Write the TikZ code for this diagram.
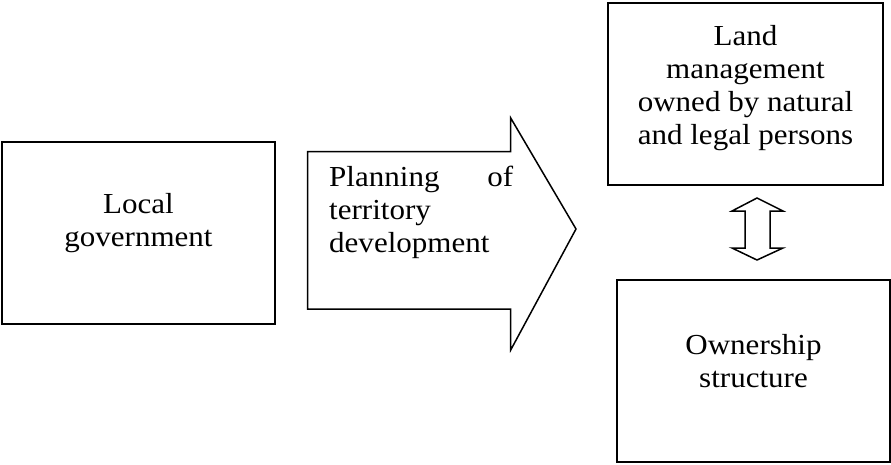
\documentclass[tikz,border=0pt]{standalone}
\usepackage{fontspec}
\setmainfont{Liberation Serif}
\usepackage{graphicx}
\begin{document}
\begin{tikzpicture}[x=1pt,y=-1pt,
  box/.style={draw, line width=1.6pt, inner sep=0pt, minimum width=#1, minimum height=182pt},
  txt/.style={inner sep=0pt, font=\fontsize{29}{33}\selectfont},
  shapeline/.style={draw, line width=1.5pt, line join=miter}]
\useasboundingbox (0,0) rectangle (891,464);
% boxes
\node[box=273pt] (gov) at (138.5,233) {};
\node[box=275pt] (land) at (745.5,94) {};
\node[box=273pt] (own) at (753.5,371) {};
% texts
\node[txt, anchor=base] (govt) at (138.5,213)
  {\scalebox{1.07}[1]{\begin{tabular}[t]{@{}c@{}}Local\\government\end{tabular}}};
\node[txt, anchor=base] (landt) at (745.5,45)
  {\scalebox{1.07}[1]{\begin{tabular}[t]{@{}c@{}}Land\\management\\owned by natural\\and legal persons\end{tabular}}};
\node[txt, anchor=base] (ownt) at (753.5,354)
  {\scalebox{1.07}[1]{\begin{tabular}[t]{@{}c@{}}Ownership\\structure\end{tabular}}};
% big block arrow
\path[shapeline] (307.7,151.7) -- (510.7,151.7) -- (510.7,118) -- (576,229)
  -- (510.7,350) -- (510.7,309) -- (307.7,309) -- cycle;
\node[txt, anchor=base west] (plan) at (329,186)
  {\scalebox{1.07}[1]{\begin{tabular}[t]{@{}l@{}}\makebox[172pt][s]{Planning\hfill of}\\territory\\development\end{tabular}}};
% double arrow
\path[shapeline] (757,198) -- (783,211) -- (770,211) -- (770,248) -- (783,248)
  -- (757,260) -- (732,248) -- (745,248) -- (745,211) -- (732,211) -- cycle;
\end{tikzpicture}
\end{document}
